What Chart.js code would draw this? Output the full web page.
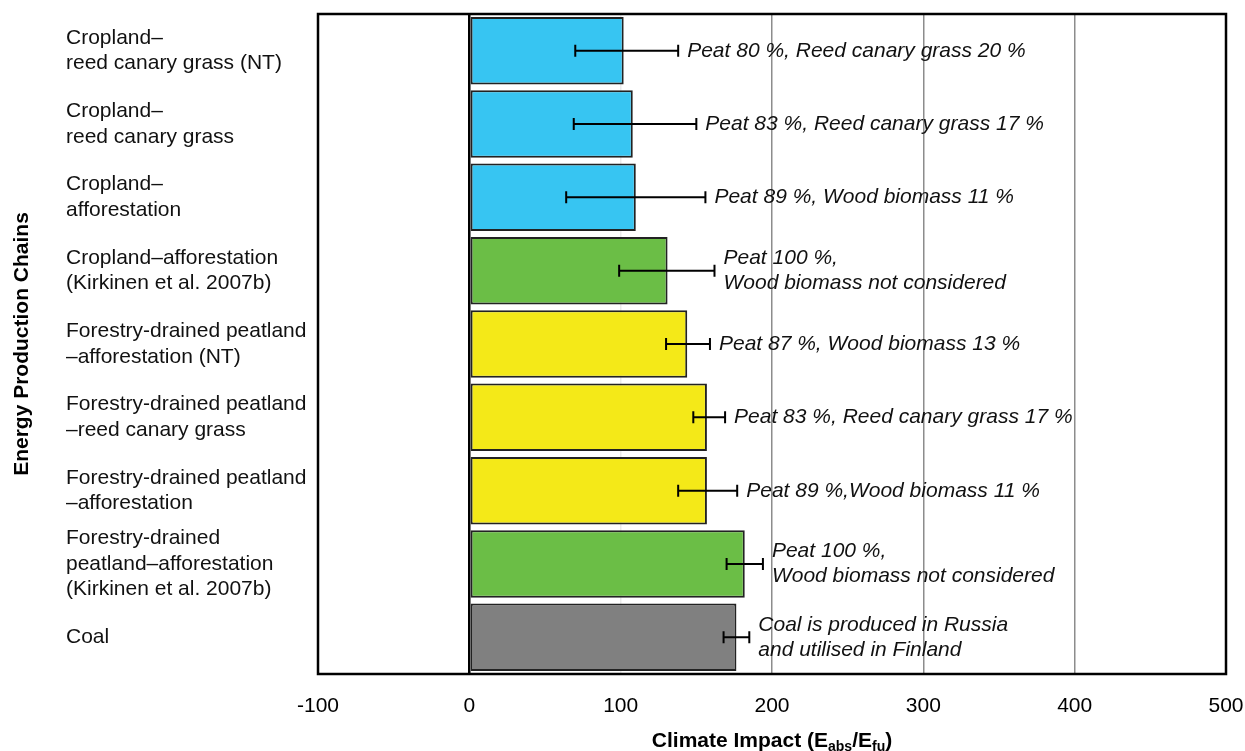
<!DOCTYPE html>
<html>
<head>
<meta charset="utf-8">
<title>Climate impact of energy production chains</title>
<script src="https://cdn.jsdelivr.net/npm/chart.js@4"></script>
<style>
  body { margin: 0; background: #fff; }
  #wrap { width: 1245px; height: 751px; }
</style>
</head>
<body>
<div id="wrap"><canvas id="impactChart" width="1245" height="751"></canvas></div>
<script>
// Tuotantoketjut (ylhäältä alas)
const chains = [
  ['Cropland–', 'reed canary grass (NT)'],
  ['Cropland–', 'reed canary grass'],
  ['Cropland–', 'afforestation'],
  ['Cropland–afforestation', '(Kirkinen et al. 2007b)'],
  ['Forestry-drained peatland', '–afforestation (NT)'],
  ['Forestry-drained peatland', '–reed canary grass'],
  ['Forestry-drained peatland', '–afforestation'],
  ['Forestry-drained', 'peatland–afforestation', '(Kirkinen et al. 2007b)'],
  ['Coal']
];

// Ilmastovaikutus ja virherajat
const impact = [102, 108, 110, 131, 144, 157, 157, 182, 176.5];
const errLow = [70, 69, 64, 99, 130, 148, 138, 170, 168];
const errHigh = [138, 150, 156, 162, 159, 169, 177, 194, 185];

// Huomautukset palkkien oikealla puolella
const notes = [
  ['Peat 80 %, Reed canary grass 20 %'],
  ['Peat 83 %, Reed canary grass 17 %'],
  ['Peat 89 %, Wood biomass 11 %'],
  ['Peat 100 %,', 'Wood biomass not considered'],
  ['Peat 87 %, Wood biomass 13 %'],
  ['Peat 83 %, Reed canary grass 17 %'],
  ['Peat 89 %,Wood biomass 11 %'],
  ['Peat 100 %,', 'Wood biomass not considered'],
  ['Coal is produced in Russia', 'and utilised in Finland']
];

const xTicks = [-100, 0, 100, 200, 300, 400, 500];

const BLUE = '#37c5f2';
const GREEN = '#6bbe46';
const YELLOW = '#f4e918';
const GREY = '#808080';
const barColors = [BLUE, BLUE, BLUE, GREEN, YELLOW, YELLOW, YELLOW, GREEN, GREY];

const FONT = "'Liberation Sans', Arial, Helvetica, sans-serif";

// Virhepalkit, huomautukset, kehys ja akselien otsikot
const extrasPlugin = {
  id: 'extras',
  afterDatasetsDraw(chart) {
    const ctx = chart.ctx;
    const x = chart.scales.x;
    const y = chart.scales.y;
    ctx.save();
    ctx.strokeStyle = '#000';
    ctx.lineWidth = 2;
    impact.forEach((v, i) => {
      const yc = y.getPixelForValue(i);
      const x1 = x.getPixelForValue(errLow[i]);
      const x2 = x.getPixelForValue(errHigh[i]);
      ctx.beginPath();
      ctx.moveTo(x1, yc); ctx.lineTo(x2, yc);
      ctx.moveTo(x1, yc - 6); ctx.lineTo(x1, yc + 6);
      ctx.moveTo(x2, yc - 6); ctx.lineTo(x2, yc + 6);
      ctx.stroke();

      // huomautusteksti
      ctx.fillStyle = '#111';
      ctx.font = 'italic 21px ' + FONT;
      ctx.textAlign = 'left';
      ctx.textBaseline = 'middle';
      const lines = notes[i];
      const lh = 25;
      const y0 = yc - (lines.length - 1) * lh / 2;
      lines.forEach((t, k) => ctx.fillText(t, x2 + 9, y0 + k * lh));
    });
    ctx.restore();
  },
  afterDraw(chart) {
    const ctx = chart.ctx;
    const a = chart.chartArea;
    ctx.save();
    // kehys
    ctx.strokeStyle = '#000';
    ctx.lineWidth = 2.5;
    ctx.strokeRect(a.left, a.top, a.right - a.left, a.bottom - a.top);

    // y-akselin otsikko
    ctx.fillStyle = '#000';
    ctx.font = 'bold 21px ' + FONT;
    ctx.textAlign = 'center';
    ctx.textBaseline = 'middle';
    ctx.translate(22, (a.top + a.bottom) / 2);
    ctx.rotate(-Math.PI / 2);
    ctx.fillText('Energy Production Chains', 0, 0);
    ctx.restore();

    // x-akselin otsikko alaindekseillä
    ctx.save();
    ctx.fillStyle = '#000';
    ctx.textBaseline = 'alphabetic';
    ctx.textAlign = 'left';
    const parts = [
      { t: 'Climate Impact (E', sub: false },
      { t: 'abs', sub: true },
      { t: '/E', sub: false },
      { t: 'fu', sub: true },
      { t: ')', sub: false }
    ];
    const bigFont = 'bold 21px ' + FONT;
    const subFont = 'bold 14px ' + FONT;
    let total = 0;
    parts.forEach(p => {
      ctx.font = p.sub ? subFont : bigFont;
      p.w = ctx.measureText(p.t).width;
      total += p.w;
    });
    let px = (a.left + a.right) / 2 - total / 2;
    const base = 747;
    parts.forEach(p => {
      ctx.font = p.sub ? subFont : bigFont;
      ctx.fillText(p.t, px, p.sub ? base + 4 : base);
      px += p.w;
    });
    ctx.restore();
  }
};

function gridColor(ctx) {
  const v = ctx.tick && ctx.tick.value;
  if (v === 0) return '#000';
  if (v === 100) return 'rgba(0,0,0,0.08)';
  if (v === 200 || v === 300 || v === 400) return '#8c8c8c';
  return 'rgba(0,0,0,0)';
}

function gridWidth(ctx) {
  const v = ctx.tick && ctx.tick.value;
  return v === 0 ? 2.5 : 1.5;
}

new Chart(document.getElementById('impactChart'), {
  type: 'bar',
  data: {
    labels: chains,
    datasets: [{
      label: 'Climate Impact',
      data: impact,
      backgroundColor: barColors,
      borderColor: '#222',
      borderWidth: 2,
      borderSkipped: false,
      barPercentage: 0.92,
      categoryPercentage: 1.0
    }]
  },
  options: {
    indexAxis: 'y',
    responsive: false,
    animation: false,
    layout: {
      padding: { left: 66, top: 14, right: 19, bottom: 0 }
    },
    plugins: {
      legend: { display: false },
      tooltip: { enabled: false }
    },
    scales: {
      x: {
        type: 'linear',
        min: -100,
        max: 500,
        afterBuildTicks(scale) {
          scale.ticks = xTicks.map(v => ({ value: v }));
        },
        afterFit(scale) {
          scale.height = 77;
          scale.paddingLeft = 0;
          scale.paddingRight = 0;
        },
        border: { display: false },
        grid: {
          color: gridColor,
          lineWidth: gridWidth,
          drawTicks: false
        },
        ticks: {
          color: '#000',
          padding: 20,
          font: { family: FONT, size: 21 }
        }
      },
      y: {
        afterFit(scale) {
          scale.width = 252;
          scale.paddingTop = 0;
          scale.paddingBottom = 0;
        },
        border: { display: false },
        grid: { display: false },
        ticks: {
          color: '#111',
          crossAlign: 'far',
          autoSkip: false,
          font: { family: FONT, size: 21, lineHeight: 1.22 }
        }
      }
    }
  },
  plugins: [extrasPlugin]
});
</script>
</body>
</html>
